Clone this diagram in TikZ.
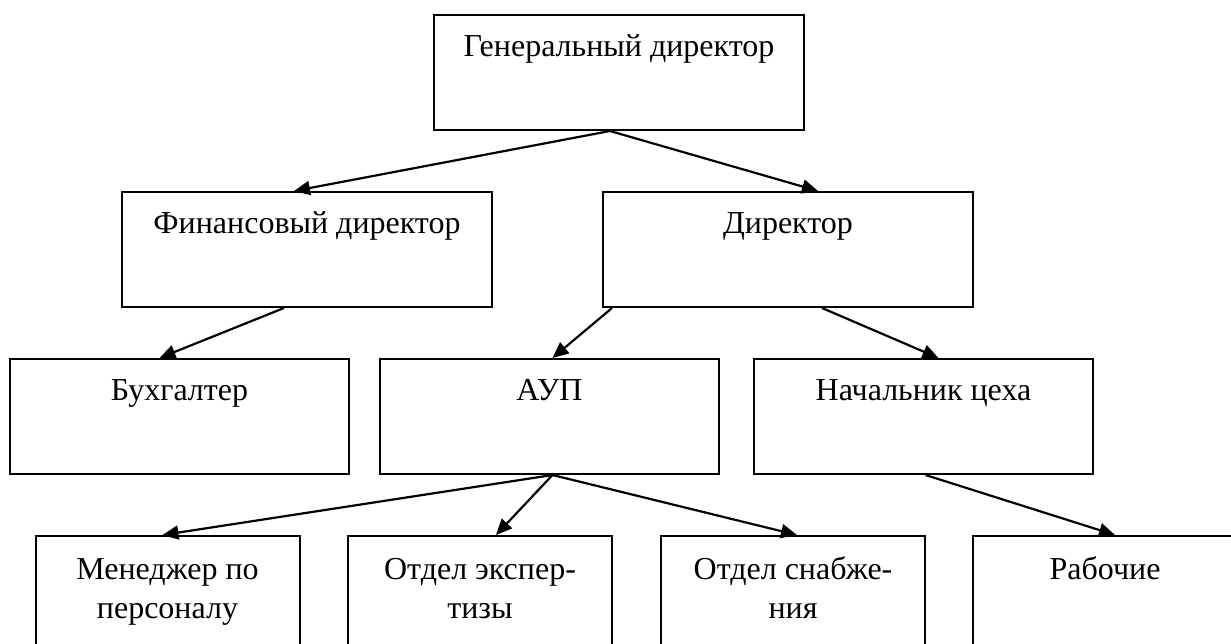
\documentclass[tikz,border=0pt]{standalone}
\usepackage{fontspec}
\setmainfont{Liberation Serif}
\usetikzlibrary{positioning, arrows.meta, calc}

\begin{document}
\begin{tikzpicture}[
  x=0.5pt, y=-0.5pt,
  every node/.style={font=\fontsize{16pt}{19.5pt}\selectfont},
  arr/.style={-{Triangle[length=8pt, width=7pt]}, line width=1.1pt},
  box/.style={draw, line width=1pt, anchor=north, inner sep=0pt, align=center,
              minimum width=185pt, text height=20.5pt, text depth=37pt},
  mbox/.style={box, minimum width=169.5pt},
  sbox/.style={box, minimum width=132pt, text height=21.5pt, text depth=45pt},
  tbox/.style={sbox, text height=41pt, text depth=25.5pt}
]
\useasboundingbox (0,0) rectangle (1231,643);
\clip (0,0) rectangle (1231,643);

%% 1. Top level
\node[box] (gen) at (619,14) {Генеральный директор};

%% 2. Directors
\node[box] (fin) at (307,191) {Финансовый директор};
\node[box] (dir) at (788,191) {Директор};

%% 3. Middle level
\node[mbox] (buh)  at (179.5,358) {Бухгалтер};
\node[mbox] (aup)  at (549.5,358) {АУП};
\node[mbox] (nach) at (923.5,358) {Начальник цеха};

%% 4. Bottom level (cut by the lower edge)
\node[tbox] (men)    at (167.5,535) {Менеджер по\\персоналу};
\node[tbox] (expert) at (480,535)   {Отдел экспер-\\тизы};
\node[tbox] (snab)   at (793,535)   {Отдел снабже-\\ния};
\node[sbox] (rab)    at (1105,535)  {Рабочие};

%% ---- Arrows ----
% General director -> directors
\draw[arr] ($(gen.south)+(-9,0)$) -- ($(fin.north)+(-13,0)$);
\draw[arr] ($(gen.south)+(-9,0)$) -- ($(dir.north)+(30,0)$);

% Financial director -> accountant
\draw[arr] ($(fin.south)+(-23,0)$) -- ($(buh.north)+(-20,0)$);

% Director -> AUP, shop chief
\draw[arr] ($(dir.south west)+(10,0)$) -- ($(aup.north)+(3,0)$);
\draw[arr] ($(dir.south)+(34,0)$) -- ($(nach.north)+(15,0)$);

% AUP -> departments
\draw[arr] ($(aup.south)+(3,0)$) -- ($(men.north)+(-5,0)$);
\draw[arr] ($(aup.south)+(3,0)$) -- ($(expert.north)+(16,0)$);
\draw[arr] ($(aup.south)+(3,0)$) -- ($(snab.north)+(4,0)$);

% Shop chief -> workers
\draw[arr] ($(nach.south)+(2,0)$) -- ($(rab.north)+(10,0)$);

\end{tikzpicture}
\end{document}
